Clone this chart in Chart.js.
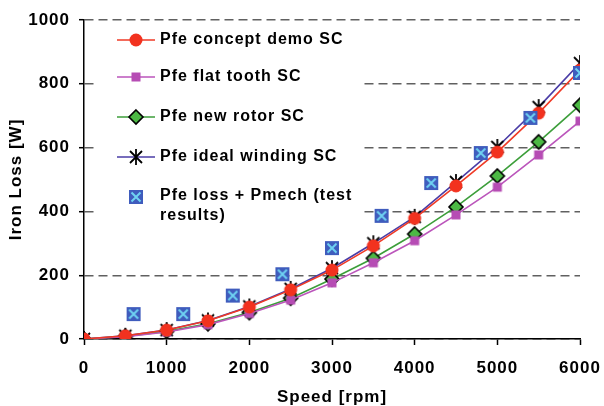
<!DOCTYPE html>
<html>
<head>
<meta charset="utf-8">
<script src="https://cdn.jsdelivr.net/npm/chart.js@4/dist/chart.umd.min.js"></script>
<style>
  html, body { margin: 0; padding: 0; background: #fff; }
  #wrap { width: 604px; height: 406px; }
</style>
</head>
<body>
<div id="wrap"><canvas id="lossChart"></canvas></div>
<script>
// speeds for the simulated curves
const speeds = [0, 500, 1000, 1500, 2000, 2500, 3000, 3500, 4000, 4500, 5000, 5500, 6000];
const conceptDemo = [0, 10, 28, 57, 100, 154, 216, 292, 378, 480, 586, 708, 843];
const flatTooth = [0, 7, 22, 45, 80, 122, 176, 239, 308, 389, 476, 577, 683];
const newRotor = [0, 8, 24, 48, 83, 128, 188, 253, 329, 414, 511, 618, 733];
const idealWinding = [0, 10, 28, 58, 102, 157, 222, 300, 383, 492, 602, 727, 865];

// measured points
const testSpeeds = [600, 1200, 1800, 2400, 3000, 3600, 4200, 4800, 5400, 6000];
const testLoss = [78, 78, 136, 203, 285, 386, 489, 583, 693, 834];

const yTicks = [0, 200, 400, 600, 800, 1000];
const xTicks = [0, 1000, 2000, 3000, 4000, 5000, 6000];

const seriesNames = ['Pfe concept demo SC', 'Pfe flat tooth SC', 'Pfe new rotor SC', 'Pfe ideal winding SC'];
const testName = ['Pfe loss + Pmech (test', 'results)'];

const FONT = '"Liberation Sans", Arial, sans-serif';

function makeMarker(size, draw) {
    const c = document.createElement('canvas');
    c.width = size;
    c.height = size;
    draw(c.getContext('2d'), size / 2);
    return c;
}

const redDot = makeMarker(16, (g, m) => {
    g.fillStyle = '#f2321f';
    g.beginPath();
    g.arc(m, m, 6.5, 0, Math.PI * 2);
    g.fill();
});
const purpleSquare = makeMarker(12, (g, m) => {
    g.fillStyle = '#b64cb4';
    g.fillRect(m - 4.5, m - 4.5, 9, 9);
});
const greenDiamond = makeMarker(18, (g, m) => {
    g.fillStyle = '#4cb944';
    g.strokeStyle = '#000';
    g.lineWidth = 1.6;
    g.beginPath();
    g.moveTo(m, m - 7);
    g.lineTo(m + 7, m);
    g.lineTo(m, m + 7);
    g.lineTo(m - 7, m);
    g.closePath();
    g.fill();
    g.stroke();
});
const blackStar = makeMarker(20, (g, m) => {
    g.strokeStyle = '#000';
    g.lineWidth = 1.8;
    g.beginPath();
    g.moveTo(m, m - 8); g.lineTo(m, m + 8);
    g.moveTo(m - 6, m - 6); g.lineTo(m + 6, m + 6);
    g.moveTo(m + 6, m - 6); g.lineTo(m - 6, m + 6);
    g.stroke();
});
const blueBox = makeMarker(16, (g, m) => {
    g.fillStyle = '#3f5cbd';
    g.fillRect(m - 7, m - 7, 14, 14);
    g.strokeStyle = '#6fd3f2';
    g.lineWidth = 2;
    g.beginPath();
    g.moveTo(m - 4.5, m - 4.5); g.lineTo(m + 4.5, m + 4.5);
    g.moveTo(m + 4.5, m - 4.5); g.lineTo(m - 4.5, m + 4.5);
    g.stroke();
});

const lineColors = ['#ef3a26', '#bb55bb', '#3c9e3a', '#4a3ca6'];
const markers = [redDot, purpleSquare, greenDiamond, blackStar];
const curves = [conceptDemo, flatTooth, newRotor, idealWinding];

function pairs(xs, ys) {
    return xs.map((x, i) => ({ x: x, y: ys[i] }));
}

const datasets = curves.map((vals, i) => ({
    label: seriesNames[i],
    data: pairs(speeds, vals),
    borderColor: lineColors[i],
    borderWidth: 1.6,
    pointStyle: markers[i],
    tension: 0
}));
// test results drawn first so simulated markers sit on top
datasets.unshift({
    label: testName.join(' '),
    data: pairs(testSpeeds, testLoss),
    showLine: false,
    pointStyle: blueBox
});

const spacing = {
    id: 'spacing',
    beforeDraw(chart) { chart.ctx.letterSpacing = '1px'; }
};

const boxLegend = {
    id: 'boxLegend',
    afterDraw(chart) {
        const ctx = chart.ctx;
        ctx.save();
        ctx.fillStyle = '#fff';
        ctx.fillRect(95, 26, 268, 205);
        const rows = [40, 77, 117, 157];
        ctx.font = 'bold 16px ' + FONT;
        ctx.textBaseline = 'middle';
        ctx.fillStyle = '#000';
        rows.forEach((y, i) => {
            ctx.strokeStyle = lineColors[i];
            ctx.lineWidth = 1.6;
            ctx.beginPath();
            ctx.moveTo(117, y);
            ctx.lineTo(155, y);
            ctx.stroke();
            const m = markers[i];
            ctx.drawImage(m, 136 - m.width / 2, y - m.height / 2);
            ctx.fillText(seriesNames[i], 160, y);
        });
        ctx.drawImage(blueBox, 136 - blueBox.width / 2, 197 - blueBox.height / 2);
        ctx.fillText(testName[0], 160, 196);
        ctx.fillText(testName[1], 160, 216);
        ctx.restore();
    }
};

const plain = v => String(v);

new Chart(document.getElementById('lossChart'), {
    type: 'line',
    data: { datasets: datasets },
    options: {
        responsive: true,
        maintainAspectRatio: false,
        animation: false,
        layout: { padding: { top: 20, right: 24, left: 0, bottom: 0 } },
        plugins: {
            legend: { display: false },
            tooltip: { enabled: false }
        },
        scales: {
            x: {
                type: 'linear',
                min: 0,
                max: 6000,
                afterBuildTicks: s => { s.ticks = xTicks.map(v => ({ value: v })); },
                afterFit: s => { s.height = 67; s.paddingLeft = 0; s.paddingRight = 0; },
                grid: { drawOnChartArea: false, tickLength: 6, tickColor: '#000', tickWidth: 1.5 },
                border: { color: '#000', width: 1.5 },
                ticks: { color: '#000', padding: 13, callback: plain, font: { family: FONT, size: 17, weight: 'bold' } },
                title: {
                    display: true,
                    text: 'Speed [rpm]',
                    color: '#000',
                    padding: 0,
                    font: { family: FONT, size: 17, weight: 'bold', lineHeight: 1 }
                }
            },
            y: {
                min: 0,
                max: 1000,
                afterBuildTicks: s => { s.ticks = yTicks.map(v => ({ value: v })); },
                afterFit: s => { s.width = 84; s.paddingTop = 0; s.paddingBottom = 0; },
                grid: { color: '#606060', lineWidth: 1.4, tickLength: 5, tickColor: '#000', tickWidth: 1.5, tickBorderDash: [] },
                border: { color: '#000', width: 1.5, dash: [9, 5] },
                ticks: { color: '#000', padding: 9, callback: plain, font: { family: FONT, size: 17, weight: 'bold' } },
                title: {
                    display: true,
                    text: 'Iron Loss [W]',
                    color: '#000',
                    padding: { top: 6, bottom: 0 },
                    font: { family: FONT, size: 17, weight: 'bold' }
                }
            }
        }
    },
    plugins: [spacing, boxLegend]
});
</script>
</body>
</html>
